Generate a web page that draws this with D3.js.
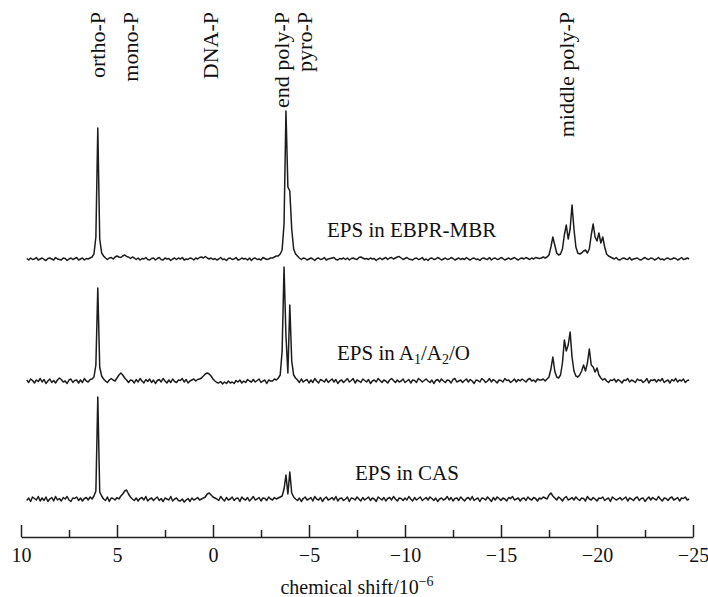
<!DOCTYPE html>
<html>
<head>
<meta charset="utf-8">
<script src="https://cdn.jsdelivr.net/npm/d3@7"></script>
<style>
  body { margin: 0; background: #fff; }
  svg { display: block; }
  text { font-family: "Liberation Serif", "Times New Roman", serif; fill: #111; }
</style>
</head>
<body>
<svg id="chart" width="708" height="597"></svg>
<script>
// 31P NMR spectra, intensities sampled every 0.1 ppm from 9.7 down to -24.8
const shiftStart = 9.7;
const shiftStep = -0.1;

const ebprMbr = [
  0.5, -1, 1, -0.5, 0, 1.5, -1, 0,
  1, -0.5, -1.5, 0.5, 1, 0, -1, 1.5, 0, -0.5,
  -1, 1, 0.5, -1.5, 0, 1, -0.5, 0.5, 1.5, -1,
  0, 1, -1, 0.5, 0, 1, 2, 5, 22, 131,
  20, 6, 3, 1, -0.5, 1, 1.5, 0, 2, 3,
  2, 1.5, 3, 4, 2.5, 2, 0.5, 2, 1, -0.5,
  1, -1, 0.5, 0, 1.5, -0.5, -1, 0.5, 1, -1,
  0.5, 1.5, -0.5, -1, 1, 0, 0.5, -1.5, 0, 1,
  -0.5, 1, 0, 1.5, -1, 0, -0.5, 1, 0.5, -1,
  1, 0, 1.5, 2, 1, 2.5, 1, 0, 1, -0.5,
  0.5, -1, 0, 1.5, -0.5, 0, -1.5, 0.5, 1, -0.5,
  0, 1.5, -1, -0.5, 1, 0, 0.5, -1, 1, -1.5,
  0.5, 1, -0.5, 0, -1, 1.5, 0.5, -0.5, 0, 1,
  1, 2, 3, 3, 5, 9, 35, 148, 72, 68,
  30, 10, 5, 3, 1, -0.5, 1, 0.5, -1, 0,
  1, 0, -1.5, 0.5, 1, -0.5, 0, 1.5, -1, 0,
  0.5, 1, 1.5, -0.5, -1, 0.5, 0, 1, -0.5, 1,
  -1, 0.5, 1, 0, -0.5, 1.5, 2, 1, 0, 0.5,
  -0.5, 1, 0, 0.5, -1.5, 0, 1, -0.5, 0.5, 1.5,
  -0.5, 1, 1.5, 0, 1, 2, 2.5, 1, -0.5, 0.5,
  1.5, 0, -0.5, -1, 0.5, 1, -0.5, 0, 1.5, -1,
  0, -1.5, 0.5, 1, -0.5, 0, 1.5, 0.5, -1, 0,
  1, -0.5, 0, 1.5, 0.5, -1, 0, 1, -0.5, 0.5,
  -0.5, 1.5, 0, -1, 0.5, 1, -0.5, 0, -1.5, 0.5,
  1, 0, -0.5, 1.5, -1, 0.5, 1, -0.5, 0, 1.5,
  0.5, -1, 0, 1, -0.5, 0.5, 1.5, 0, -1, 0.5,
  1, 0, 1.5, 0.5, -0.5, 1, 0, 1.5, 1, 0.5,
  1, 2, 1, 2, 4, 12, 22, 14, 6, 4,
  5, 10, 24, 34, 20, 30, 54, 30, 12, 6,
  5, 6, 8, 9, 6, 10, 24, 35, 22, 18,
  26, 16, 22, 12, 5, 3, 2, 1, 0, 1.5,
  -0.5, -1, 0.5, 1, 0, -0.5, 1.5, -1, 0, 0.5,
  1, -0.5, -1, 0.5, 1.5, 0, -0.5, 1, 0.5, -1,
  0, 1.5, -0.5, 0, -1, 0.5, 1, -0.5, 0, 1,
  0.5, -1, 0, 1.5, -0.5, 0, 1, 0
];

const a1a2o = [
  1, -1.5, 2, 0.5, -2, 1, -0.5, 2.5,
  -1, 1.5, -2.5, 0, 2, -1.5, 0.5, -2, 1, 3,
  1.5, -1, 0, -2.5, 1, 2, -1.5, 0.5, 1, -2,
  1, -1.5, 2.5, 0, -1, 1.5, 2, 4, 16, 93,
  14, 5, 2, 0, -1.5, 1, 2.5, 1, 0, 3,
  6, 8, 6, 3, 1, -1.5, 1, 0.5, -2, 1.5,
  -1, 2.5, 0, -2, 1.5, -0.5, 2, -1.5, 1, -2.5,
  0.5, 1.5, -1, 2.5, 0, -2, 1, -1.5, 2, -0.5,
  -1.5, 1, 0.5, 2.5, -1, 1.5, -2, 0, 1, 2,
  0, 1.5, 2, 3, 5, 7, 8, 7, 5, 2,
  0, -1.5, -2, -0.5, -3, -1, -2.5, 0, -2, -1,
  -2.5, 0.5, -1, 1, -2, 0, -1.5, 1.5, 0, -1,
  1.5, -1, 0.5, 2, -1.5, 0, 1, -2.5, 1, 0,
  0, 2, 1, 3, 6, 30, 114, 45, 8, 76,
  20, 6, 3, 1, -1.5, 2, -1, 0.5, 1.5, -2,
  1, -1.5, 2.5, 0, -2, 1.5, 0.5, -1, 2, -1.5,
  0.5, 2, -1, 1.5, -2.5, 0, 1, -1.5, 0.5, 2.5,
  -1, 0.5, 2.5, -2, 1, 0, -1.5, 2, 0.5, -1,
  1.5, -2.5, 0, 1, -1, 2.5, 0.5, -1.5, 1, 0,
  -2, 1, 2.5, 0.5, -1.5, 1, -1, 0, 2, -1.5,
  0, 1.5, -2, 1, 0.5, -1.5, 2.5, 1, -1, 0.5,
  2, 0, -1.5, 1, -2.5, 0.5, 1.5, -1, 2, 0,
  -1.5, 1, 0.5, -2, 1.5, 2.5, -1, 0, 1, -1.5,
  0.5, 2, -1, 1.5, 0, -2.5, 1, 0.5, -1, 2.5,
  1, -1.5, 0, 2.5, -1, 1.5, 0, -2, 1, 0.5,
  -1, 2.5, 0.5, 1, -1.5, 0, 2, -1, 1.5, 0,
  2, 0.5, -1, 1.5, 2.5, 0, 1, -1, 2, 1,
  1, 2, 0, 2, 4, 12, 24, 10, 4, 3,
  6, 18, 41, 30, 36, 49, 24, 10, 5, 4,
  6, 10, 16, 10, 18, 32, 16, 14, 9, 13,
  6, 3, 1, 2.5, 0, -1.5, 1, 0.5, 2, -1,
  1.5, 0, -2, 1, 0.5, 2.5, -1, 1, 0, -1.5,
  2, 0.5, 1, -1.5, 0, 2.5, -2, 1, 0.5, 1.5,
  -1, 1.5, 0, 2.5, -1.5, 0, 1, -2, 1.5, 0,
  2.5, -1, 1, 0, 2, -1.5, 0.5, 1
];

const cas = [
  -1.5, 1, -2.5, 2, 0.5, -1, 2.5, -2,
  1, -1.5, 2, -2.5, 0, 1.5, -2, 2.5, -1, 0.5,
  -2, 1.5, 0, 2.5, -1, -2.5, 1, 0.5, 2, -1.5,
  1, -2, 0.5, 1.5, -1, 2, 0, 3, 8, 102,
  7, 3, 0, -1.5, 2, -2.5, 1, 0.5, -1, 1.5,
  0, 3, 5, 8, 9, 5, 2, 0, -1.5, 1,
  -2, 0.5, 1.5, -1, 2.5, -2, 0, 1, -1.5, 0.5,
  2, -1.5, 0.5, -2.5, 1, 0, -1, 2.5, -2, 0,
  1, -1.5, -2, 0, -3, -1, 0.5, -2.5, 1, -1,
  0, 1.5, -1, 0, 1, 2, 5, 6, 4, 2,
  1, 0, -1.5, 2.5, 0, -2, 1.5, -1, 0, 2,
  -1.5, 0.5, 1, -2.5, 2, 0, -1, 1.5, -2, 0,
  2.5, -1, 0, 1.5, -2, 1, 0.5, -1.5, 2, 0,
  -1, 1.5, 0, 1, 2, 3, 10, 24, 5, 27,
  6, 2, 0, -1.5, 1, -2.5, 0.5, 2, -1, 0,
  1.5, -2, 2.5, 0, -1, 1.5, -2.5, 0.5, 2, -1,
  0, 1.5, -1, 2.5, -2, 0.5, 1, -1.5, 0, 2,
  -2.5, 1, 0.5, -1, 2, 0, -2, 1.5, -1, 0.5,
  2, -1.5, 1, 0, -2.5, 2, 0.5, -1, 1.5, -2,
  0.5, 1.5, -1, 2.5, 0, -2, 1, 0.5, -1.5, 1,
  -1, 2.5, 0, -2, 1.5, -1, 0.5, 2, -1.5, 0,
  1.5, -1, 2, 0.5, -1.5, 1, -2.5, 0, 1, -1,
  0, 2.5, -1, 1.5, -2, 0.5, 1, -1.5, 2, 0,
  -2, 0.5, 1.5, -1, 2.5, -1.5, 0, 1, -2.5, 1,
  0.5, -1, 2, 0, -2.5, 1.5, -1, 2, 0.5, -1.5,
  1, 0, -2, 1.5, 0.5, 2.5, -1, 0, 1, -2,
  0.5, 1, -1.5, 2, 0, -1, 1.5, 0.5, -2, 1,
  0, 2, 1, 0, 4, 6, 3, 1, -1, 2,
  0.5, -2, 1, 2.5, -1, 0, 1.5, -1, 2, 0,
  -1.5, 1, 0.5, -2, 2.5, 0, -1, 1.5, 0, -2,
  1, 0.5, 2, -1.5, 0, 1, -2.5, 2, 0.5, -1,
  0, 1.5, -1, 0.5, 2, -2, 1, 0, -1.5, 1,
  2, -1.5, 0.5, 1, -2.5, 0, 2, -1, 1.5, 0,
  -1, 2.5, 0, -2, 1, 0.5, -1.5, 1, 2, -1,
  0, 1.5, -2, 1, 0.5, 2, -1, 0
];

const spectra = [ebprMbr, a1a2o, cas];
const spectrumOffsets = [240, 118, 0];
const spectrumNames = ["EPS in EBPR-MBR", "EPS in A1/A2/O", "EPS in CAS"];

const peakNames = ["ortho-P", "mono-P", "DNA-P", "end poly-P", "pyro-P", "middle poly-P"];
const peakShifts = [6.04, 4.32, 0.13, -3.57, -4.74, -18.39];

const majorTicks = [10, 5, 0, -5, -10, -15, -20, -25];
const minorTicks = [7.5, 2.5, -2.5, -7.5, -12.5, -17.5, -22.5];

const svg = d3.select("#chart");

const x = d3.scaleLinear().domain([10, -25]).range([21, 693]);
const y = d3.scaleLinear().domain([0, 400]).range([499, 99]);

// spectra traces, stacked by their offsets
const line = d3.line()
  .x((d, i) => x(shiftStart + i * shiftStep))
  .y(d => y(d));

spectra.forEach((vals, k) => {
  svg.append("path")
    .datum(vals.map(v => v + spectrumOffsets[k]))
    .attr("d", line)
    .attr("fill", "none")
    .attr("stroke", "#1c1c1c")
    .attr("stroke-width", 1.5)
    .attr("stroke-linejoin", "round");
});

// series captions (A1/A2/O carries subscripts)
const captionPos = [[327, 237], [337, 360], [355, 480]];
spectrumNames.forEach((name, k) => {
  const t = svg.append("text")
    .attr("x", captionPos[k][0])
    .attr("y", captionPos[k][1])
    .attr("font-size", 21);
  if (name === "EPS in A1/A2/O") {
    t.append("tspan").text("EPS in A");
    t.append("tspan").text("1").attr("font-size", 14).attr("dy", 4);
    t.append("tspan").text("/A").attr("dy", -4);
    t.append("tspan").text("2").attr("font-size", 14).attr("dy", 4);
    t.append("tspan").text("/O").attr("dy", -4);
  } else {
    t.text(name);
  }
});

// peak assignments, written vertically
peakNames.forEach((name, k) => {
  svg.append("text")
    .attr("transform", `translate(${x(peakShifts[k])},12) rotate(-90)`)
    .attr("text-anchor", "end")
    .attr("dy", "0.35em")
    .attr("font-size", 22)
    .text(name);
});

// chemical shift axis: major ticks every 5, minor halfway between
const axisY = 537;
const axisMajor = d3.axisBottom(x)
  .tickValues(majorTicks)
  .tickSize(-12)
  .tickSizeOuter(0)
  .tickPadding(11)
  .tickFormat(d => d < 0 ? "\u2212" + Math.abs(d) : String(d));

const gMajor = svg.append("g")
  .attr("transform", `translate(0,${axisY})`)
  .call(axisMajor);
gMajor.select(".domain").attr("stroke", "#222").attr("stroke-width", 1.5);
gMajor.selectAll(".tick line").attr("stroke", "#222").attr("stroke-width", 1.5);
gMajor.selectAll(".tick text")
  .attr("font-family", "\"Liberation Serif\", \"Times New Roman\", serif")
  .attr("font-size", 20)
  .attr("fill", "#111");

const axisMinor = d3.axisBottom(x)
  .tickValues(minorTicks)
  .tickSize(-7)
  .tickSizeOuter(0)
  .tickFormat("");
const gMinor = svg.append("g")
  .attr("transform", `translate(0,${axisY})`)
  .call(axisMinor);
gMinor.select(".domain").remove();
gMinor.selectAll(".tick line").attr("stroke", "#222").attr("stroke-width", 1.5);

// axis title with superscript exponent
const title = svg.append("text")
  .attr("x", (x(10) + x(-25)) / 2)
  .attr("y", 594)
  .attr("text-anchor", "middle")
  .attr("font-size", 20);
title.append("tspan").text("chemical shift/10");
title.append("tspan").text("\u22126").attr("font-size", 14).attr("dy", -8);
</script>
</body>
</html>
